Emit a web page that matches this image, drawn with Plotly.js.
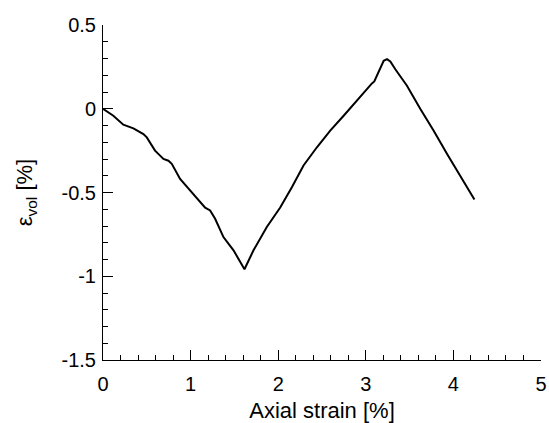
<!DOCTYPE html>
<html>
<head>
<meta charset="utf-8">
<script src="https://cdn.plot.ly/plotly-3.0.1.min.js"></script>
<style>html,body{margin:0;padding:0;background:#fff;}#chart{width:549px;height:423px;}</style>
</head>
<body>
<div id="chart"></div>
<script>
const axialStrain = [0, 0.118, 0.232, 0.347, 0.461, 0.50, 0.594, 0.69, 0.747, 0.785, 0.88, 0.956, 1.07, 1.166, 1.223, 1.28, 1.375, 1.49, 1.615, 1.718, 1.87, 2.023, 2.156, 2.289, 2.442, 2.594, 2.747, 2.88, 2.975, 3.07, 3.097, 3.147, 3.204, 3.242, 3.28, 3.337, 3.47, 3.623, 3.775, 3.928, 4.08, 4.24];
const volStrain = [0, -0.042, -0.095, -0.117, -0.151, -0.171, -0.25, -0.30, -0.31, -0.329, -0.419, -0.464, -0.538, -0.591, -0.607, -0.657, -0.766, -0.845, -0.958, -0.845, -0.706, -0.59, -0.468, -0.339, -0.23, -0.131, -0.042, 0.038, 0.097, 0.151, 0.163, 0.216, 0.286, 0.296, 0.282, 0.236, 0.137, -0.002, -0.131, -0.27, -0.399, -0.542];
const xTickVals = [0, 1, 2, 3, 4, 5];
const xTickText = ["0", "1", "2", "3", "4", "5"];
const yTickVals = [0.5, 0, -0.5, -1, -1.5];
const yTickText = ["0.5", "0", "-0.5", "-1", "-1.5"];

const FONT = "Liberation Sans, Arial, Helvetica, sans-serif";

const trace = {
  x: axialStrain, y: volStrain, type: "scatter", mode: "lines",
  line: {color: "#000", width: 2}, hoverinfo: "skip"
};

const commonAxis = {
  showgrid: false, zeroline: false, showline: true, linecolor: "#000", linewidth: 1,
  ticks: "inside", ticklen: 10, tickwidth: 1, tickcolor: "#000",
  tickfont: {family: FONT, size: 20, color: "#000"},
  tickmode: "array", fixedrange: true
};

const layout = {
  width: 549, height: 423,
  margin: {l: 103, r: 8, t: 25, b: 63},
  paper_bgcolor: "#fff", plot_bgcolor: "#fff",
  showlegend: false,
  font: {family: FONT, color: "#000"},
  xaxis: Object.assign({}, commonAxis, {
    range: [0, 5], tickvals: xTickVals, ticktext: xTickText, ticklabelstandoff: 6,
    minor: {ticks: "inside", ticklen: 5, tickwidth: 1, tickcolor: "#000", dtick: 0.2, tick0: 0, showgrid: false},
    title: {text: "Axial strain [%]", font: {family: FONT, size: 22, color: "#000"}, standoff: 10}
  }),
  yaxis: Object.assign({}, commonAxis, {
    range: [-1.5, 0.5], tickvals: yTickVals, ticktext: yTickText, ticklabelstandoff: 2,
    minor: {ticks: "inside", ticklen: 5, tickwidth: 1, tickcolor: "#000", dtick: 0.1, tick0: 0, showgrid: false},
    title: {text: "ε<sub>vol</sub> [%]", font: {family: FONT, size: 22, color: "#000"}, standoff: 22}
  })
};

Plotly.newPlot("chart", [trace], layout, {displayModeBar: false, staticPlot: true});
</script>
</body>
</html>
